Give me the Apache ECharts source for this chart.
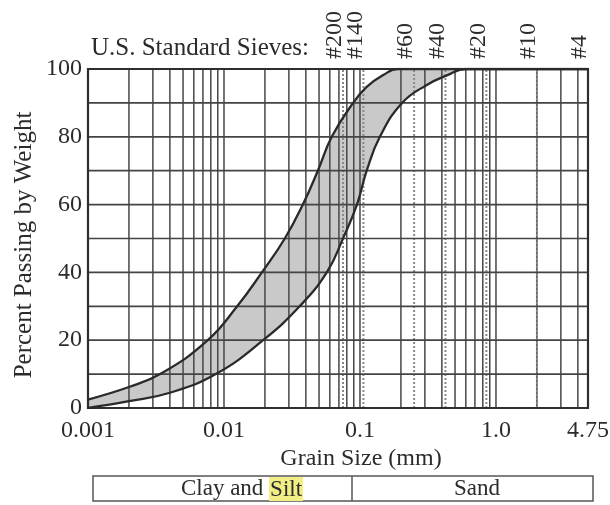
<!DOCTYPE html>
<html>
<head>
<meta charset="utf-8">
<script src="https://cdn.jsdelivr.net/npm/echarts@6/dist/echarts.min.js"></script>
<style>
  html, body { margin: 0; padding: 0; background: #fff; }
  #chart { width: 610px; height: 505px; }
</style>
</head>
<body>
<div id="chart"></div>
<script>
// ---- data ----
const xTickValues = [0.001, 0.01, 0.1, 1, 4.75];
const xTickLabels = ['0.001', '0.01', '0.1', '1.0', '4.75'];
const yTickValues = [0, 20, 40, 60, 80, 100];
const sieveSizes = [0.075, 0.106, 0.25, 0.425, 0.85, 2.0, 4.75];
const sieveLabels = ['#200', '#140', '#60', '#40', '#20', '#10', '#4'];
const decades = [0.001, 0.01, 0.1, 1];
const hLevels = [10, 20, 30, 40, 50, 60, 70, 80, 90];

// finer (upper / left) boundary curve
const upperSize = [0.001, 0.002, 0.0035, 0.0076, 0.0125, 0.019, 0.028, 0.038, 0.049, 0.062, 0.089, 0.112, 0.148, 0.19];
const upperPass = [2.5, 6.2, 10.3, 20, 30, 40, 50, 60, 70, 80, 90, 94.7, 98.2, 100];
// coarser (lower / right) boundary curve
const lowerSize = [0.001, 0.002, 0.004, 0.0087, 0.0194, 0.036, 0.057, 0.075, 0.095, 0.112, 0.14, 0.204, 0.31, 0.44, 0.6];
const lowerPass = [0, 2, 4.5, 10, 20, 30, 40, 50, 60, 70, 80, 90, 95.3, 98.2, 100];

const bandLabels = ['Clay and ', 'Silt', 'Sand'];
const xMin = 0.001, xMax = 4.75;

// ---- build ----
const FONT = "'Liberation Serif', 'Times New Roman', serif";
const TXT = '#2b2b2b';
const SMOOTH = 0.45;
const upperData = upperSize.map((s, i) => [s, upperPass[i]]).concat([[xMax, 100]]);
const lowerData = lowerSize.map((s, i) => [s, lowerPass[i]]).concat([[xMax, 100]]);

const gridItems = [];
decades.forEach(d => {
  for (let k = 1; k <= 9; k++) {
    const v = +(k * d).toPrecision(6);
    if (v > xMin && v < xMax) gridItems.push([v, 0, 0]);
  }
});
sieveSizes.forEach(s => { if (s < xMax) gridItems.push([s, 0, 1]); });
hLevels.forEach(h => gridItems.push([xMin, h, 2]));
gridItems.push([xMin, 0, 3]);

function renderGrid(params, api) {
  const t = api.value(2);
  const cs = params.coordSys;
  if (t === 3) {
    return { type: 'rect', shape: { x: cs.x, y: cs.y, width: cs.width, height: cs.height },
      style: { fill: null, stroke: '#2e2e2e', lineWidth: 2.2 } };
  }
  if (t === 2) {
    const p = api.coord([xMin, api.value(1)]);
    return { type: 'line', shape: { x1: cs.x, y1: p[1], x2: cs.x + cs.width, y2: p[1] },
      style: { stroke: '#444', lineWidth: 1.7 } };
  }
  const a = api.coord([api.value(0), 0]);
  const b = api.coord([api.value(0), 100]);
  if (t === 1) {
    return { type: 'line', shape: { x1: a[0], y1: a[1], x2: b[0], y2: b[1] },
      style: { stroke: '#8a8a8a', lineWidth: 2, lineDash: [2, 2] } };
  }
  return { type: 'line', shape: { x1: a[0], y1: a[1], x2: b[0], y2: b[1] },
    style: { stroke: '#474747', lineWidth: 1.5 } };
}

const chart = echarts.init(document.getElementById('chart'), null, { renderer: 'canvas' });
const option = {
  backgroundColor: '#fff',
  animation: false,
  grid: { left: 88, top: 69, width: 500, height: 339, show: false },
  xAxis: {
    type: 'log', logBase: 10, min: xMin, max: xMax,
    axisLabel: { show: false }, axisLine: { show: false }, axisTick: { show: false },
    splitLine: { show: false }
  },
  yAxis: {
    type: 'value', min: 0, max: 100, interval: 20,
    axisLabel: { color: TXT, fontFamily: FONT, fontSize: 24, margin: 6,
      formatter: v => (yTickValues.indexOf(v) >= 0 ? String(v) : '') },
    axisLine: { show: false }, axisTick: { show: false }, splitLine: { show: false }
  },
  series: [
    { type: 'line', data: upperData, smooth: SMOOTH, symbol: 'none', z: 1,
      lineStyle: { width: 0, opacity: 0 }, areaStyle: { color: '#c9c9c9', opacity: 1 } },
    { type: 'line', data: lowerData, smooth: SMOOTH, symbol: 'none', z: 1,
      lineStyle: { width: 0, opacity: 0 }, areaStyle: { color: '#ffffff', opacity: 1 } },
    { type: 'custom', data: gridItems, renderItem: renderGrid, z: 2, silent: true },
    { type: 'line', data: upperData, smooth: SMOOTH, symbol: 'none', z: 3,
      lineStyle: { color: '#2a2a2a', width: 2.3 } },
    { type: 'line', data: lowerData, smooth: SMOOTH, symbol: 'none', z: 3,
      lineStyle: { color: '#2a2a2a', width: 2.3 } }
  ]
};
chart.setOption(option);

const px = v => chart.convertToPixel({ gridIndex: 0 }, [v, 0]);
const graphics = [];
xTickValues.forEach((v, i) => {
  const p = px(v);
  graphics.push({ type: 'text', x: p[0], y: 431, z: 10,
    style: { text: xTickLabels[i], fill: TXT, font: `24px ${FONT}`, textAlign: 'center', textVerticalAlign: 'middle' } });
});
sieveSizes.forEach((s, i) => {
  const p = px(s);
  graphics.push({ type: 'text', x: p[0] - 8, y: 59, rotation: Math.PI / 2, z: 10,
    style: { text: sieveLabels[i], fill: TXT, font: `24px ${FONT}`, textAlign: 'left', textVerticalAlign: 'middle' } });
});
graphics.push({ type: 'text', x: 91, y: 48, z: 10,
  style: { text: 'U.S. Standard Sieves:', fill: TXT, font: `25px ${FONT}`, textAlign: 'left', textVerticalAlign: 'middle' } });
graphics.push({ type: 'text', x: 361, y: 459, z: 10,
  style: { text: 'Grain Size (mm)', fill: TXT, font: `24px ${FONT}`, textAlign: 'center', textVerticalAlign: 'middle' } });
graphics.push({ type: 'text', x: 24, y: 245, rotation: Math.PI / 2, z: 10,
  style: { text: 'Percent Passing by Weight', fill: TXT, font: `25px ${FONT}`, textAlign: 'center', textVerticalAlign: 'middle' } });
// classification box
graphics.push({ type: 'rect', shape: { x: 93, y: 476, width: 500, height: 25 }, z: 10,
  style: { fill: null, stroke: '#555', lineWidth: 1.5 } });
graphics.push({ type: 'line', shape: { x1: 352, y1: 476, x2: 352, y2: 501 }, z: 10,
  style: { stroke: '#555', lineWidth: 1.5 } });
graphics.push({ type: 'text', x: 242, y: 489, z: 11,
  style: { text: `{a|${bandLabels[0]}}{b|${bandLabels[1]}}`, fill: TXT, font: `23px ${FONT}`,
    textAlign: 'center', textVerticalAlign: 'middle',
    rich: {
      a: { fill: TXT, font: `23px ${FONT}` },
      b: { fill: TXT, font: `23px ${FONT}`, backgroundColor: '#f2ee86', padding: [1, 1, 0, 1], height: 23 }
    } } });
graphics.push({ type: 'text', x: 477, y: 489, z: 11,
  style: { text: bandLabels[2], fill: TXT, font: `23px ${FONT}`, textAlign: 'center', textVerticalAlign: 'middle' } });
chart.setOption({ graphic: graphics });
</script>
</body>
</html>
